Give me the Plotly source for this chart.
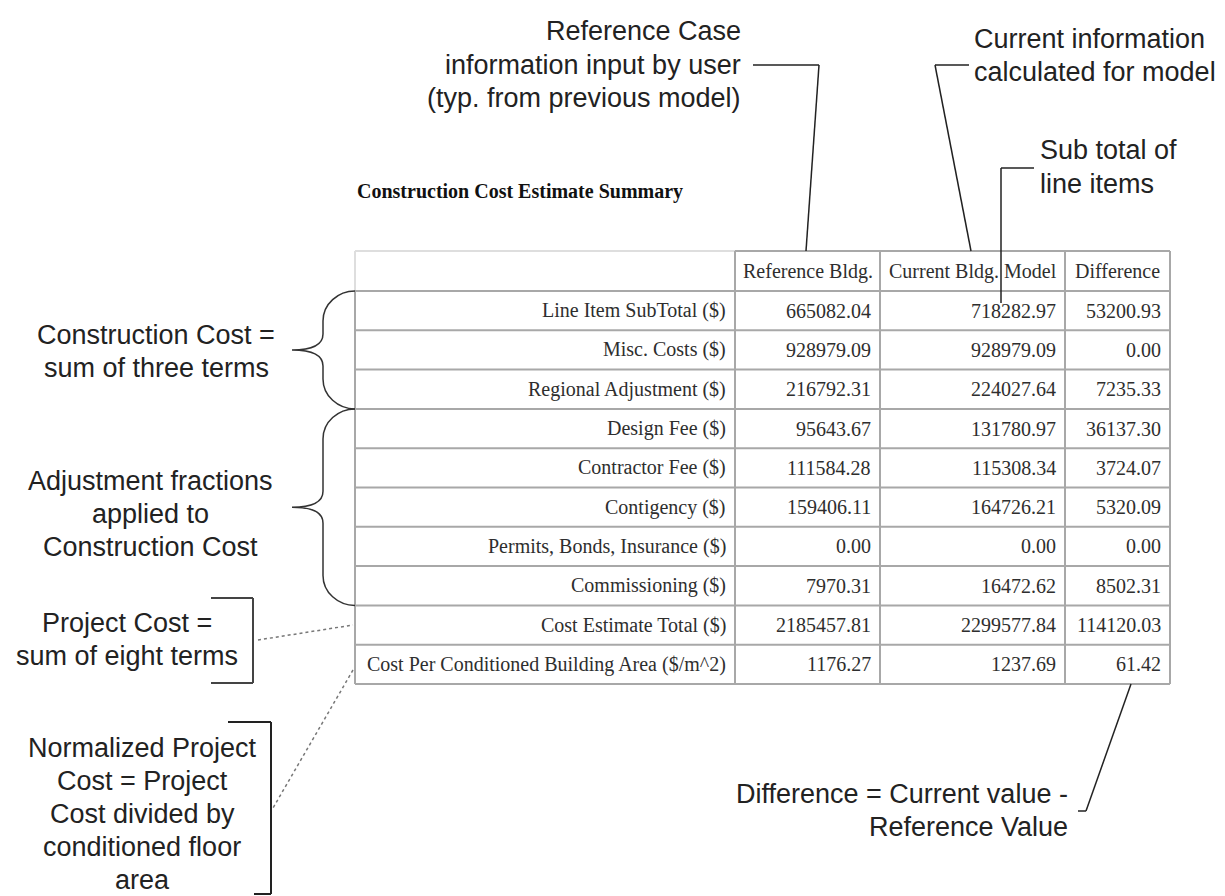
import plotly.graph_objects as go

# ---------------- data ----------------
title_text = "Construction Cost Estimate Summary"
column_headers = ["", "Reference Bldg.", "Current Bldg. Model", "Difference"]
row_labels = [
    "Line Item SubTotal ($)",
    "Misc. Costs ($)",
    "Regional Adjustment ($)",
    "Design Fee ($)",
    "Contractor Fee ($)",
    "Contigency ($)",
    "Permits, Bonds, Insurance ($)",
    "Commissioning ($)",
    "Cost Estimate Total ($)",
    "Cost Per Conditioned Building Area ($/m^2)",
]
reference_bldg = [665082.04, 928979.09, 216792.31, 95643.67, 111584.28,
                  159406.11, 0.00, 7970.31, 2185457.81, 1176.27]
current_bldg = [718282.97, 928979.09, 224027.64, 131780.97, 115308.34,
                164726.21, 0.00, 16472.62, 2299577.84, 1237.69]
difference = [53200.93, 0.00, 7235.33, 36137.30, 3724.07,
              5320.09, 0.00, 8502.31, 114120.03, 61.42]

# ---------------- layout constants ----------------
W, H = 1225, 896
col_edges = [347, 727, 872, 1057, 1162]
table_top = 243
header_h = 40
row_h = 39.3
row_edges = [table_top, table_top + header_h] + [
    table_top + header_h + row_h * (i + 1) for i in range(len(row_labels))
]
bottom = row_edges[-1]

GRID = "#a8a8a8"
LIGHT = "#dedede"
TXT = "#2e2e2e"
SERIF = "Liberation Serif, Times New Roman, serif"
SANS = "Liberation Sans, Arial, sans-serif"
CALL_SIZE = 27
INK = "#222222"

fig = go.Figure()
fig.add_trace(go.Scatter(x=[0, W], y=[0, H], mode="markers",
                         marker=dict(opacity=0), hoverinfo="skip", showlegend=False))

shapes = []
annotations = []


def line(x0, y0, x1, y1, color=INK, width=1.5, dash=None):
    d = dict(type="line", xref="x", yref="y", x0=x0, y0=y0, x1=x1, y1=y1,
             line=dict(color=color, width=width))
    if dash:
        d["line"]["dash"] = dash
    shapes.append(d)


def text(x, y, s, size=CALL_SIZE, anchor="center", font=SANS, color=INK, bold=False):
    annotations.append(dict(
        x=x, y=y, xref="x", yref="y", text=("<b>%s</b>" % s) if bold else s,
        showarrow=False, xanchor=anchor, yanchor="middle",
        font=dict(family=font, size=size, color=color)))


# ---------------- table grid ----------------
line(col_edges[0], table_top, col_edges[1], table_top, LIGHT, 2)
line(col_edges[1], table_top, col_edges[-1], table_top, GRID, 2)
line(col_edges[0], table_top, col_edges[0], row_edges[1], LIGHT, 2)
line(col_edges[0], row_edges[1], col_edges[0], bottom, GRID, 2)
line(col_edges[-1], table_top, col_edges[-1], bottom, GRID, 2)
for y in row_edges[1:]:
    line(col_edges[0], y, col_edges[-1], y, GRID, 2)
for x in col_edges[1:-1]:
    line(x, table_top, x, bottom, GRID, 2)

for j, h in enumerate(column_headers):
    if h:
        cx = (col_edges[j] + col_edges[j + 1]) / 2
        text(cx, (row_edges[0] + row_edges[1]) / 2, h, size=20, font=SERIF, color=TXT)

pad = 7
for i, lab in enumerate(row_labels):
    cy = (row_edges[i + 1] + row_edges[i + 2]) / 2
    text(col_edges[1] - pad, cy, lab, size=20, font=SERIF, color=TXT, anchor="right")
    for j, series in enumerate([reference_bldg, current_bldg, difference]):
        text(col_edges[j + 2] - pad, cy, f"{series[i]:.2f}", size=20, font=SERIF,
             color=TXT, anchor="right")

text(col_edges[0], 183, title_text, size=20, font=SERIF, color="#111", anchor="left", bold=True)

# ---------------- braces ----------------
def brace(y0, y1, x_edge=347, x_mid=315, x_tip=284):
    ym = (y0 + y1) / 2
    r = 30
    return (f"M {x_edge},{y0} C {x_edge-17},{y0} {x_mid},{y0+13} {x_mid},{y0+r} "
            f"L {x_mid},{ym-16} C {x_mid},{ym-5} {x_mid-12},{ym} {x_tip},{ym} "
            f"C {x_mid-12},{ym} {x_mid},{ym+5} {x_mid},{ym+16} "
            f"L {x_mid},{y1-r} C {x_mid},{y1-13} {x_edge-17},{y1} {x_edge},{y1}")


shapes.append(dict(type="path", xref="x", yref="y", path=brace(row_edges[1], row_edges[4]),
                   line=dict(color="#333", width=1.5)))
shapes.append(dict(type="path", xref="x", yref="y", path=brace(row_edges[4], row_edges[9]),
                   line=dict(color="#333", width=1.5)))

# ---------------- left callouts ----------------
text(148, 327, "Construction Cost =")
text(148, 360, "sum of three terms")
text(142, 473, "Adjustment fractions")
text(142, 506, "applied to")
text(142, 539, "Construction Cost")
text(119, 615, "Project Cost =")
text(119, 648, "sum of eight terms")
for k, s in enumerate(["Normalized Project", "Cost = Project", "Cost divided by",
                       "conditioned floor", "area"]):
    text(134, 740 + 33 * k, s)

line(203, 590, 245, 590, "#444", 2)
line(245, 590, 245, 675, "#444", 2)
line(203, 675, 245, 675, "#444", 2)
line(250, 632, 345, 617, "#777", 1.5, "dot")
line(220, 714, 263, 714, "#222", 2)
line(263, 714, 263, 886, "#222", 2)
line(246, 886, 263, 886, "#222", 2)
line(345, 662, 265, 800, "#777", 1.5, "dot")

# ---------------- top callouts ----------------
for k, s in enumerate(["Reference Case", "information input by user", "(typ. from previous model)"]):
    text(735, 23 + 33.5 * k, s, anchor="right")
line(745, 57, 811, 57)
line(811, 57, 798, table_top)

text(964, 31, "Current information", anchor="left")
text(964, 64, "calculated for model", anchor="left")
line(927, 57, 961, 57)
line(927, 57, 963, table_top)

text(1030, 142, "Sub total of", anchor="left")
text(1030, 176, "line items", anchor="left")
line(993, 160, 1026, 160)
line(993, 160, 993, 295)

# ---------------- bottom-right callout ----------------
text(1062, 786, "Difference = Current value -", anchor="right")
text(1062, 819, "Reference Value", anchor="right")
line(1123, bottom, 1078, 803)
line(1078, 803, 1070, 803)

fig.update_layout(
    width=W, height=H, margin=dict(l=0, r=0, t=0, b=0),
    paper_bgcolor="white", plot_bgcolor="white",
    xaxis=dict(range=[0, W], visible=False, fixedrange=True),
    yaxis=dict(range=[H, 0], visible=False, fixedrange=True),
    shapes=shapes, annotations=annotations, showlegend=False,
)
fig.write_html("out.html")
